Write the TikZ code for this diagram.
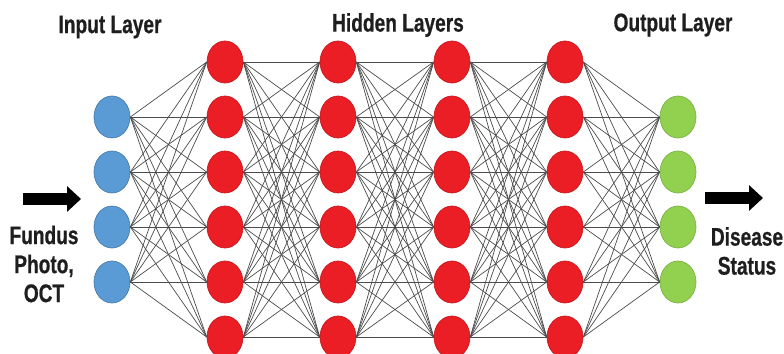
\documentclass[tikz,border=0pt]{standalone}
\usepackage{fontspec}
\setmainfont{Liberation Sans}
\newfontfamily\condfont{Liberation Sans}[FakeStretch=0.75, FakeBold=0.6]
\usetikzlibrary{shapes.geometric,arrows.meta}
\definecolor{inblue}{RGB}{91,155,213}
\definecolor{hidred}{RGB}{234,30,36}
\definecolor{outgreen}{RGB}{146,208,80}
\definecolor{ink}{RGB}{30,30,30}
\begin{document}
\begin{tikzpicture}[x=0.02cm, y=-0.02cm,
		unit/.style={ellipse, minimum width=0.72cm, minimum height=0.84cm, inner sep=0pt, line width=0.4pt},
		inunit/.style={unit, fill=inblue, draw=inblue!80!black},
		hidunit/.style={unit, fill=hidred, draw=hidred!85!black},
		outunit/.style={unit, fill=outgreen, draw=outgreen!85!black},
		link/.style={black!70, line width=0.4pt},
		bigarrow/.style={line width=0.24cm, -{Triangle[length=0.28cm, width=0.5cm]}},
		title/.style={text=ink, font=\condfont\bfseries\fontsize{14.5}{16}\selectfont},
		side/.style={text=ink, align=center, font=\condfont\bfseries\fontsize{14.5}{16.5}\selectfont}]
		\useasboundingbox (0,0) rectangle (784,354);

		% input layer
		\foreach \y [count=\i] in {117,172,227,282}
			\node [inunit] (in\i) at (112,\y) {};
		% hidden layers
		\foreach \l/\x in {1/225, 2/338, 3/452, 4/565} {
			\foreach \y [count=\i] in {62,117,172,227,282,337} {
				\node [hidunit] (h\l-\i) at (\x,\y) {};
			}
		}
		% output layer
		\foreach \y [count=\i] in {117,172,227,282}
			\node [outunit] (out\i) at (678,\y) {};

		\foreach \i in {1,...,4} {
			\foreach \j in {1,...,6} {
				\draw [link] (in\i.east) -- (h1-\j.west);
				\draw [link] (h4-\j.east) -- (out\i.west);
			}
		}
		\foreach \l/\m in {1/2, 2/3, 3/4} {
			\foreach \i in {1,...,6} {
				\foreach \j in {1,...,6} {
					\draw [link] (h\l-\i.east) -- (h\m-\j.west);
				}
			}
		}

		\node [title] (intitle) at (110,27) {Input Layer};
		\node [title] (hidtitle) at (398,25) {Hidden Layers};
		\node [title] (outtitle) at (673,25) {Output Layer};
		\node [side] (source) at (44,264) {Fundus\\Photo,\\OCT};
		\node [side] (target) at (747,251) {Disease\\Status};

		\coordinate (inS) at (23,199);
		\coordinate (inE) at (81,199);
		\coordinate (outS) at (705,198);
		\coordinate (outE) at (763,198);
		\draw [bigarrow] (inS) -- (inE);
		\draw [bigarrow] (outS) -- (outE);
	\end{tikzpicture}
\end{document}
